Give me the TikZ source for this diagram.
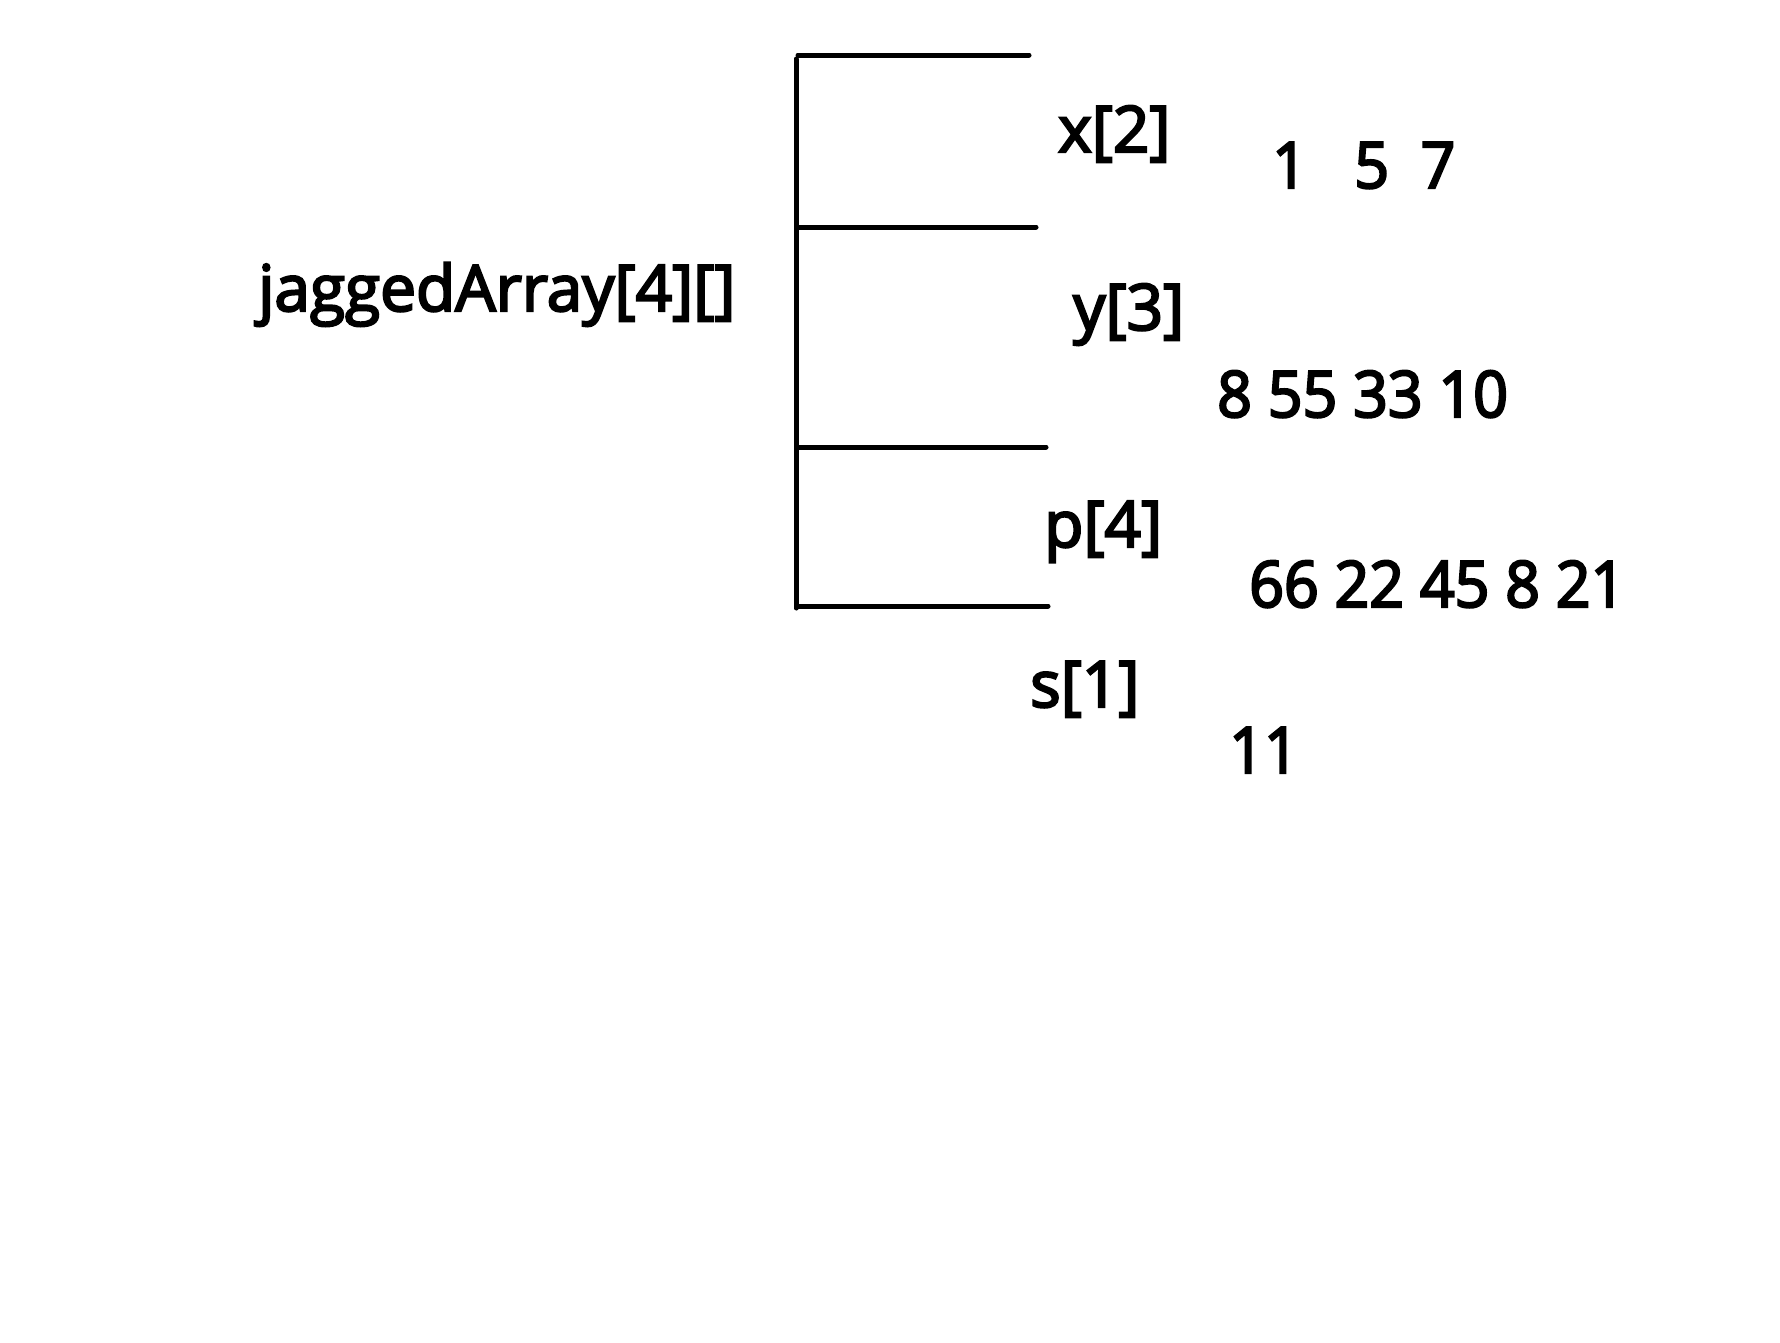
\documentclass[tikz,border=0pt]{standalone}
\usepackage{fontspec}
\setmainfont{Open Sans}[FakeBold=3.5]
\newfontfamily\numfont{Open Sans}[FakeStretch=0.95,FakeBold=3.5]
\usepackage{tikz}
\usetikzlibrary{positioning}
\tikzset{lbl/.style={anchor=base west,inner sep=0pt,font=\fontsize{64}{76}\selectfont}}
\tikzset{num/.style={lbl,font=\numfont\fontsize{64}{76}\selectfont}}
\tikzset{rail/.style={line width=5pt,line cap=round,draw=black}}

\begin{document}
\begin{tikzpicture}[x=1pt,y=-1pt]
\useasboundingbox (0,0) rectangle (1780,1342);
\foreach \i / \y / \r in {1/55/1029,2/227/1036,3/447/1046,4/606/1048} {
	\coordinate (L\i) at (798,\y);
	\coordinate (R\i) at (\r,\y);
	\draw[rail] (L\i) -- (R\i);
}
\coordinate (top) at (796,59);
\coordinate (bot) at (796,608);
\draw[rail] (top) -- (bot);
\node[lbl] (arr) at (258,311) {jaggedArray[4][]};
\node[lbl] (x2) at (1058,152) {x[2]};
\node[lbl] (y3) at (1073,330) {y[3]};
\node[lbl] (p4) at (1044,547) {p[4]};
\node[lbl] (s1) at (1030,707) {s[1]};
\node[num] (vx) at (1272,188) {1\ \ \ 5\ \ 7};
\node[num] (vy) at (1217,417) {8 55 33 10};
\node[num] (vp) at (1249,607) {66 22 45 8 21};
\node[num] (vs) at (1229,773) {11};
\end{tikzpicture}
\end{document}
